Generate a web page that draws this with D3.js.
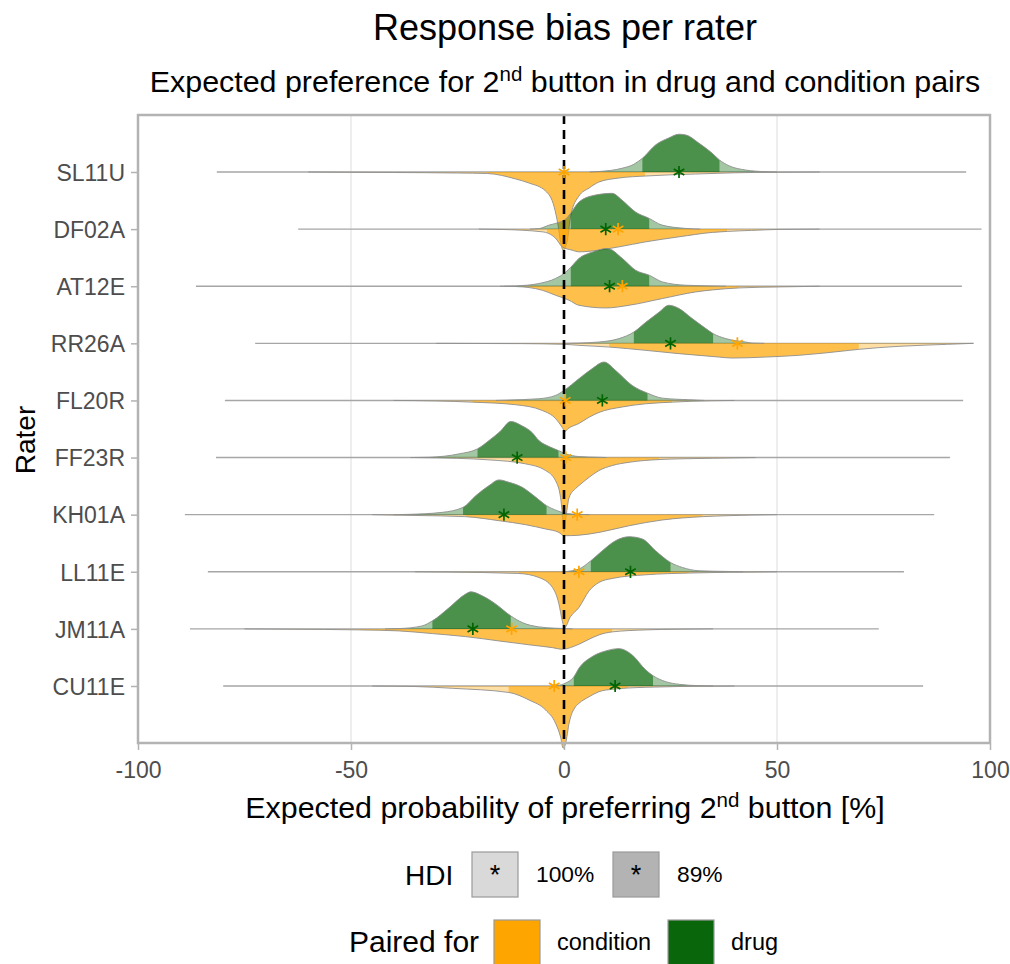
<!DOCTYPE html>
<html><head><meta charset="utf-8">
<script src="https://cdn.jsdelivr.net/npm/d3@7"></script>
<style>body{margin:0;background:#fff} svg{font-family:"Liberation Sans",Arial,Helvetica,sans-serif}</style>
</head><body><svg id="c" width="1010" height="964"></svg>
<script>
// ---------------- data ----------------
const raters = ["SL11U","DF02A","AT12E","RR26A","FL20R","FF23R","KH01A","LL11E","JM11A","CU11E"];
const xTicks = [-100,-50,0,50,100];
const xTickLabels = ["-100","-50","0","50","100"];

// full posterior extent per rater (thin grey line)
const rangeMin = [-81.5,-62.4,-86.4,-72.5,-79.6,-81.7,-89.0,-83.6,-87.8,-80.0];
const rangeMax = [ 94.4, 98.0, 93.4, 96.2, 93.7, 90.6, 86.9, 79.8, 73.9, 84.3];

// posterior densities: [value %, density] (density in units where 57 = one row)
const drugDensity = [
 [[6,0],[8.2,0.5],[13.6,3.7],[16.4,7.7],[18.4,13.7],[21.5,27],[24.6,34],[27,37.7],[28.6,37],[31.7,28.7],[34.8,18.7],[36.5,12],[38.7,6.3],[42.6,2],[47.3,0.3],[50,0]],
 [[-8,0],[-5.9,0.5],[-3.5,4],[-1.2,6.7],[0.4,10],[1.6,16],[3.5,27],[7.4,34],[11.3,35.7],[13.6,29],[16.8,17],[20,10.7],[23,4],[28.6,0.7],[32,0]],
 [[-14,0],[-11.3,0.3],[-5.9,2.7],[-2,7.7],[0.4,14],[1.6,19],[3.5,27.7],[6.6,34],[10.2,37.7],[13.7,27.7],[16.8,16],[20,11],[23.1,4.3],[28.6,1],[34.8,0.3],[38,0]],
 [[0,0],[3.5,0.3],[8.2,1.3],[12.9,4.7],[16.4,11.3],[19.2,21],[22.3,31],[24.6,38],[27,34.7],[30.1,24.7],[33.3,14.7],[35,9.7],[38,4.7],[42.6,1.3],[44.1,0.3],[47,0]],
 [[-16,0],[-13.7,0.3],[-5.9,1.7],[-2,5],[0,10],[3.5,21.7],[6.6,31.7],[9.4,38.3],[12.1,30],[16,15],[19.6,7.3],[23.1,2.3],[29.3,0.7],[33,0]],
 [[-36,0],[-31.7,0.3],[-24.6,3.7],[-20.3,8.7],[-17.6,17],[-15,26],[-12.5,36],[-10,32],[-7.5,25],[-5.9,17],[-3.5,11],[-1.3,7],[0.4,3.7],[3.5,1],[8,0.3],[10,0]],
 [[-40,0],[-36.4,0.3],[-28.6,2.3],[-23.7,7.3],[-20.7,19],[-17.6,29],[-15.3,34.7],[-12.9,32.3],[-9.8,27.3],[-6.6,17.3],[-4.1,9],[-1.6,4],[0.4,1.3],[3.5,0.3],[6,0]],
 [[0,0],[1.9,1],[3.5,2.7],[6.3,11],[9,21],[12.1,31],[15.3,35],[18.4,32.7],[21.5,21],[25,9.3],[27.8,4.3],[31.7,1],[38.7,0.3],[42,0]],
 [[-42,0],[-38.7,0.3],[-33.3,3],[-30.9,8],[-27,21],[-23.1,34.7],[-21.9,37],[-19.2,33],[-16,24.7],[-12.5,13],[-9.8,6.3],[-5.9,2],[-2,0.7],[2,0]],
 [[-3,0],[-1.5,0.5],[0.4,3],[2.3,9],[3.5,17.7],[6.6,29.3],[9.8,35],[12.9,37.3],[16,31],[19.2,16],[20.9,10.3],[23.9,4.3],[27,1.7],[31.7,0.3],[35,0]]
];
const condDensity = [
 [[-60,0],[-40,0.5],[-25,1],[-18,1.5],[-11.3,7],[-8.2,11],[-4.3,19],[-2.3,35],[-1.4,53],[-0.8,70],[-0.2,78],[0.7,70],[1.6,43],[3.5,24],[5.9,16],[8.2,10],[12.9,6],[19.2,4],[25,2.8],[30.9,2],[40,0.8],[50,0.2],[60,0]],
 [[-20,0],[-15,0.3],[-5.1,2.7],[-2,9],[-0.4,17.7],[1.9,21],[3.5,22.7],[8.2,21],[12.9,17.7],[19.2,12.7],[27,7.7],[34.8,3.3],[38.3,2.3],[44,1.3],[50.5,0.3],[60,0]],
 [[-15,0],[-11.3,0.3],[-5.1,4],[-2,9],[1.2,14],[3.5,19],[9.8,21.7],[15.3,19],[23.1,12.3],[30.9,5.7],[34.8,3.7],[41.1,1.7],[50.5,0.7],[60,0]],
 [[-30,0],[-10,0.3],[0,1],[3.5,2],[10.6,3.7],[19.2,7],[27,10.3],[36.4,13.7],[39.5,14.7],[47.3,13.7],[55,12],[67,7],[69.2,6],[78.6,3],[90,1],[96,0]],
 [[-40,0],[-30,0.5],[-21.5,1.7],[-11.3,4.3],[-5.1,10],[-2,18],[-0.4,27],[0.2,31],[1,28],[3.5,23],[5.9,16.7],[8.2,12],[13.7,6.5],[19.2,3.3],[25.4,1.7],[30.1,0.8],[40,0]],
 [[-35,0],[-25,0.8],[-17.6,2.3],[-9,6.3],[-4.3,13],[-2,23],[-0.8,40],[-0.4,56],[0,74],[0.5,58],[1.2,40],[2.7,31],[3.5,28],[5.9,19.7],[8.2,13],[11.3,8],[15.3,4.7],[22.3,2],[27,1.3],[34.8,0.7],[45,0]],
 [[-45,0],[-35,0.8],[-23.1,2],[-15.3,6],[-9,10],[-4.3,14.3],[-1.2,17.7],[0,21],[3.5,20.5],[8.2,17.7],[15.3,11],[23.1,5.3],[32.5,2],[38.7,1],[50,0]],
 [[-35,0],[-27,0.3],[-10.6,1.7],[-5.9,5.7],[-2.7,15.7],[-1.2,32],[-0.4,49],[0.1,56],[1.5,45],[3.5,35.7],[5.9,19],[8.2,10.7],[11.3,6.7],[19.2,3],[29.3,1.3],[38.7,0.5],[50,0]],
 [[-75,0],[-65,0.3],[-48,1],[-38.7,2],[-30.9,4.7],[-23.1,7.7],[-15.3,12],[-7.4,16.3],[-2.7,18.7],[-0.4,20.3],[3.5,15.3],[5.9,10.3],[8.2,6],[11.3,3],[19.2,1],[27,0.3],[35,0]],
 [[-45,0],[-35,0.5],[-26.2,2.3],[-12.9,6.5],[-8.2,14],[-4.3,24],[-2,37],[-0.8,51],[-0.2,62],[0.4,57],[1.2,37],[2.7,20.7],[3.5,17.3],[5.9,10.7],[8.2,5.7],[11.3,3.3],[15,2],[19.2,1.3],[27,0.5],[40,0]]
];
// 89% HDI bounds
const drugHdi89 = [[18.4,36.5],[1.6,20],[1.6,20],[16.4,35],[0.4,19.6],[-20.3,-1.3],[-23.7,-4.1],[6.3,25],[-30.9,-12.5],[2.3,20.9]];
const condHdi89 = [[-18,19],[-4,38.3],[-8,41],[10.6,69.2],[-21.5,25.4],[-12,22.3],[-23.1,32.5],[-10.6,29.3],[-48,11.3],[-13,15]];
// point estimates
const drugStar = [27.0,9.8,10.7,25.0,9.0,-11.0,-14.1,15.6,-21.4,12.0];
const condStar = [0.0,12.7,13.7,40.7,0.3,0.4,3.1,3.5,-12.3,-2.3];

const hdiLevels = ["100%","89%"];
const pairedFor = ["condition","drug"];

// ---------------- drawing ----------------
const svg = d3.select("#c");
const W = 1010, H = 964;
const P = {l:138, r:990, t:115, b:743};
const colDrug = "#006400", colCond = "#FFA500";

const x = d3.scaleLinear().domain([-100,100]).range([P.l, P.r]);
const y = d3.scalePoint().domain(raters).range([172, 686]);
const h = d3.scaleLinear().domain([0,57]).range([0, y.step()]);

// titles
svg.append("text").attr("x",565).attr("y",40).attr("text-anchor","middle")
  .attr("font-size",36).attr("fill","#000").text("Response bias per rater");
const sub = svg.append("text").attr("x",565).attr("y",92).attr("text-anchor","middle")
  .attr("font-size",30.4).attr("fill","#000");
sub.append("tspan").text("Expected preference for 2");
sub.append("tspan").attr("font-size",20.5).attr("dy",-11).text("nd");
sub.append("tspan").attr("dy",11).text(" button in drug and condition pairs");

// grid
const g = svg.append("g");
g.selectAll("line.grid").data([-50,50]).join("line")
  .attr("x1",d=>x(d)).attr("x2",d=>x(d)).attr("y1",P.t).attr("y2",P.b)
  .attr("stroke","#e3e3e3").attr("stroke-width",1.2);

// range lines
g.selectAll("line.rng").data(raters).join("line")
  .attr("x1",(d,i)=>x(rangeMin[i])).attr("x2",(d,i)=>x(rangeMax[i]))
  .attr("y1",d=>y(d)).attr("y2",d=>y(d))
  .attr("stroke","#a6a6a6").attr("stroke-width",1.4);

const defs = svg.append("defs");
function drawDist(i, data, hdi, dir, col, id){
  const base = y(raters[i]);
  const area = d3.area().curve(d3.curveMonotoneX)
    .x(d=>x(d[0])).y0(base).y1(d=>base + dir*h(d[1]));
  const line = d3.line().curve(d3.curveMonotoneX)
    .x(d=>x(d[0])).y(d=>base + dir*h(d[1]));
  const cp = defs.append("clipPath").attr("id",id);
  cp.append("rect").attr("x",x(hdi[0])).attr("width",x(hdi[1])-x(hdi[0]))
    .attr("y",0).attr("height",H);
  g.append("path").attr("d",area(data)).attr("fill",col).attr("fill-opacity",0.36);
  g.append("path").attr("d",area(data)).attr("fill",col).attr("fill-opacity",0.54)
    .attr("clip-path",`url(#${id})`);
  g.append("path").attr("d",line(data)).attr("fill","none")
    .attr("stroke","#8e8e8e").attr("stroke-width",0.9);
}
raters.forEach((r,i)=>{
  drawDist(i, condDensity[i], condHdi89[i], 1, colCond, "cc"+i);
  drawDist(i, drugDensity[i], drugHdi89[i], -1, colDrug, "cd"+i);
});

// zero line
g.append("line").attr("x1",x(0)).attr("x2",x(0)).attr("y1",P.t).attr("y2",P.b)
  .attr("stroke","#000").attr("stroke-width",2.6).attr("stroke-dasharray","9,6");

// stars
const star = d3.symbol(d3.symbolAsterisk, 105);
g.selectAll("path.sd").data(raters).join("path")
  .attr("d",star).attr("transform",(d,i)=>`translate(${x(drugStar[i])},${y(d)})`)
  .attr("fill","none").attr("stroke",colDrug).attr("stroke-width",1.7);
g.selectAll("path.sc").data(raters).join("path")
  .attr("d",star).attr("transform",(d,i)=>`translate(${x(condStar[i])},${y(d)})`)
  .attr("fill","none").attr("stroke",colCond).attr("stroke-width",1.7);

// panel border
svg.append("rect").attr("x",P.l).attr("y",P.t).attr("width",P.r-P.l).attr("height",P.b-P.t)
  .attr("fill","none").attr("stroke","#b3b3b3").attr("stroke-width",2.5);

// axes
const xa = svg.append("g").attr("transform",`translate(0,${P.b+1})`)
  .call(d3.axisBottom(x).tickValues(xTicks).tickFormat((d,i)=>xTickLabels[i]).tickSize(6).tickPadding(6));
const ya = svg.append("g").attr("transform",`translate(${P.l-1},0)`)
  .call(d3.axisLeft(y).tickSize(6).tickPadding(6));
[xa,ya].forEach(a=>{
  a.select(".domain").remove();
  a.selectAll(".tick line").attr("stroke","#b3b3b3").attr("stroke-width",1.5);
  a.selectAll(".tick text").attr("fill","#4d4d4d").attr("font-size",23)
   .attr("font-family","'Liberation Sans',Arial,sans-serif");
});
ya.selectAll(".tick text").attr("dy","0.36em");
xa.selectAll(".tick text").attr("dy","0.95em");

// axis titles
const xt = svg.append("text").attr("x",565).attr("y",818).attr("text-anchor","middle")
  .attr("font-size",30.4).attr("fill","#000");
xt.append("tspan").text("Expected probability of preferring 2");
xt.append("tspan").attr("font-size",20.5).attr("dy",-11).text("nd");
xt.append("tspan").attr("dy",11).text(" button [%]");
svg.append("text").attr("transform","translate(35,440) rotate(-90)").attr("text-anchor","middle")
  .attr("font-size",28).attr("fill","#000").text("Rater");

// legend
const lg = svg.append("g");
lg.append("text").attr("x",405).attr("y",885).attr("font-size",28).text("HDI");
const hdiFill = ["#d9d9d9","#b3b3b3"];
const hdiX = [472,613];
hdiLevels.forEach((lab,i)=>{
  lg.append("rect").attr("x",hdiX[i]).attr("y",852).attr("width",46).attr("height",45)
    .attr("fill",hdiFill[i]).attr("stroke","#9a9a9a").attr("stroke-width",1.2);
  lg.append("text").attr("x",hdiX[i]+23).attr("y",884).attr("text-anchor","middle")
    .attr("font-size",27).text("*");
  lg.append("text").attr("x",hdiX[i]+64).attr("y",882).attr("font-size",22.8).text(lab);
});
lg.append("text").attr("x",349).attr("y",952).attr("font-size",30).text("Paired for");
const pfFill = [colCond,"#0a660a"];
const pfX = [494,668];
pairedFor.forEach((lab,i)=>{
  lg.append("rect").attr("x",pfX[i]).attr("y",920).attr("width",46).attr("height",46)
    .attr("fill",pfFill[i]).attr("stroke","#9a9a9a").attr("stroke-width",1.2);
  lg.append("text").attr("x",pfX[i]+63).attr("y",950).attr("font-size",23.5).text(lab);
});
</script></body></html>
